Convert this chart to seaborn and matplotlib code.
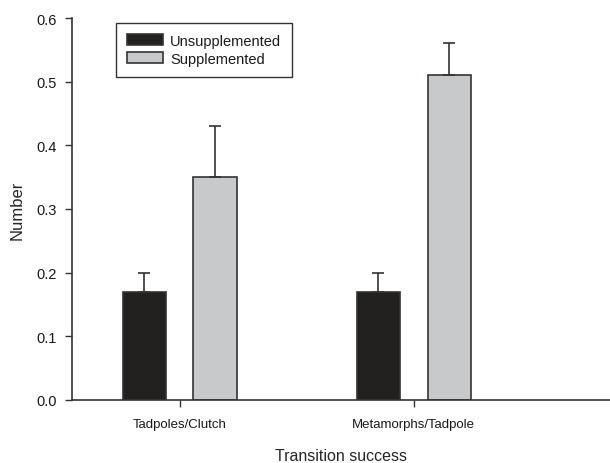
import matplotlib
matplotlib.use('Agg')
import matplotlib.pyplot as plt
import seaborn as sns
import pandas as pd

# values
categories = ['Tadpoles/Clutch', 'Metamorphs/Tadpole']
groups = ['Unsupplemented', 'Supplemented']
unsupplemented = [0.17, 0.17]
supplemented = [0.35, 0.51]
unsupplemented_err = [0.03, 0.03]
supplemented_err = [0.08, 0.05]
y_ticks = [0.0, 0.1, 0.2, 0.3, 0.4, 0.5, 0.6]

sns.set_style('ticks')
plt.rcParams['font.family'] = ['Liberation Sans', 'DejaVu Sans']
plt.rcParams['text.color'] = '#1a1a1a'
plt.rcParams['xtick.labelcolor'] = '#1a1a1a'
plt.rcParams['ytick.labelcolor'] = '#1a1a1a'

df = pd.DataFrame({
    'category': categories * 2,
    'group': [groups[0]] * 2 + [groups[1]] * 2,
    'value': unsupplemented + supplemented,
    'err': unsupplemented_err + supplemented_err,
})

fig = plt.figure(figsize=(6.1, 4.64), dpi=100)
ax = fig.add_axes([0.118, 0.136, 0.882, 0.823])

sns.barplot(data=df, x='category', y='value', hue='group', order=categories,
            hue_order=groups, palette=['#231f20', '#c8c9cb'], width=0.604,
            gap=0.39, errorbar=None, edgecolor='#333333', linewidth=1.2, ax=ax)

# upper-only error bars at bar centres
for container, grp in zip(ax.containers, groups):
    sub = df[df['group'] == grp].set_index('category').loc[categories]
    xs = [p.get_x() + p.get_width() / 2 for p in container.patches]
    ys = [p.get_height() for p in container.patches]
    ax.errorbar(xs, ys, yerr=[[0] * len(xs), sub['err'].values], fmt='none',
                ecolor='#333333', elinewidth=1.2, capsize=4.5, capthick=1.2)

ax.set_xlim(-0.46, 1.838)
ax.set_ylim(0, 0.6)
ax.set_yticks(y_ticks)
ax.set_yticklabels([f'{t:.1f}' for t in y_ticks])
ax.tick_params(axis='y', length=5, width=1, pad=6, labelsize=10.5, color='#333333')
ax.tick_params(axis='x', length=5, width=1, pad=8, labelsize=9.5, color='#333333')
for side in ['top', 'right']:
    ax.spines[side].set_visible(False)
for side in ['left', 'bottom']:
    ax.spines[side].set_color('#333333')
    ax.spines[side].set_linewidth(1.2)

ax.set_xlabel('Transition success', fontsize=11.5, labelpad=13)
ax.set_ylabel('Number', fontsize=12, labelpad=8)

leg = ax.legend(loc='upper left', bbox_to_anchor=(0.082, 0.987), borderaxespad=0,
                fontsize=10.5, frameon=True, fancybox=False, edgecolor='black',
                handlelength=2.45, handleheight=0.75, borderpad=0.75,
                labelspacing=0.25, handletextpad=0.5)
leg.get_frame().set_linewidth(1.0)

fig.savefig('out.png', dpi=100)
plt.close(fig)
